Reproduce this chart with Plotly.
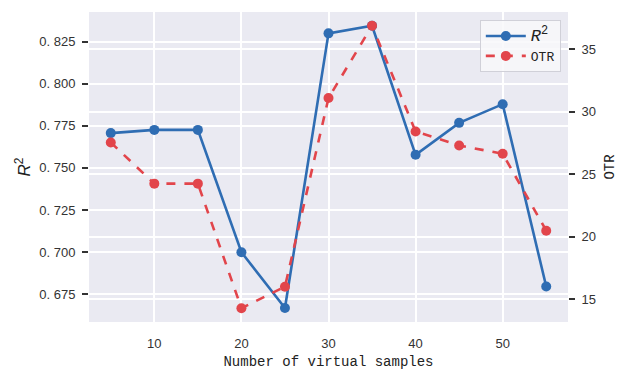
import plotly.graph_objects as go

samples = [5, 10, 15, 20, 25, 30, 35, 40, 45, 50, 55]
r2 = [0.7707, 0.7726, 0.7726, 0.6999, 0.6667, 0.8300, 0.8345, 0.7578, 0.7768, 0.7879, 0.6795]
otr = [27.55, 24.26, 24.26, 14.3, 16.02, 31.1, 36.88, 28.43, 27.31, 26.65, 20.5]

x_ticks = [10, 20, 30, 40, 50]
y1_ticks = [0.675, 0.700, 0.725, 0.750, 0.775, 0.800, 0.825]
y1_text = ["0. 675", "0. 700", "0. 725", "0. 750", "0. 775", "0. 800", "0. 825"]
y2_ticks = [15, 20, 25, 30, 35]

BLUE = "#2f6db3"
RED = "#e2454b"
BG = "#eaeaf2"
num_font = dict(family="Liberation Sans, Arial, sans-serif", size=13, color="#333333")
mono_font = dict(family="Liberation Mono, DejaVu Sans Mono, monospace", size=14, color="#222222")

fig = go.Figure()
fig.add_trace(go.Scatter(
    x=samples, y=r2, mode="lines+markers",
    name="<span style='font-size:17px'><i>R</i><sup>2</sup></span>",
    line=dict(color=BLUE, width=2.6), marker=dict(color=BLUE, size=10),
    yaxis="y"))
fig.add_trace(go.Scatter(
    x=samples, y=otr, mode="lines+markers", name="OTR",
    line=dict(color=RED, width=2.6, dash="dash"), marker=dict(color=RED, size=10),
    yaxis="y2"))

fig.update_layout(
    width=618, height=370,
    margin=dict(l=89, r=50, t=12, b=48),
    paper_bgcolor="white", plot_bgcolor=BG,
    showlegend=True,
    legend=dict(x=0.985, y=0.974, xanchor="right", yanchor="top",
                bgcolor="rgba(248,248,250,0.85)", bordercolor="#d0d0d8", borderwidth=1,
                font=dict(family="Liberation Mono, DejaVu Sans Mono, monospace", size=13, color="#222222"),
                itemwidth=40, tracegroupgap=2),
    xaxis=dict(range=[2.5, 57.5], tickvals=x_ticks, showgrid=True, gridcolor="white",
               gridwidth=1.5, zeroline=False, showline=False, ticks="", ticklabelstandoff=12,
               tickfont=num_font, automargin=False,
               title=dict(text="Number of virtual samples", font=mono_font, standoff=8)),
    yaxis=dict(range=[0.6584, 0.8427], tickvals=y1_ticks, ticktext=y1_text,
               showgrid=True, gridcolor="white", gridwidth=1.5, zeroline=False,
               showline=False, ticks="outside", ticklen=6, tickwidth=1.6, tickcolor="#333333",
               ticklabelstandoff=4, tickfont=num_font, automargin=False,
               title=dict(text="<i>R</i><sup>2</sup>",
                          font=dict(family="Liberation Sans, Arial, sans-serif", size=17, color="#222222"),
                          standoff=4)),
    yaxis2=dict(range=[13.2, 37.98], tickvals=y2_ticks, overlaying="y", side="right",
                showgrid=True, gridcolor="white", gridwidth=1.5, zeroline=False,
                showline=False, ticks="outside", ticklen=6, tickwidth=1.6, tickcolor="#333333",
                ticklabelstandoff=4, tickfont=num_font, automargin=False,
                title=dict(text="OTR", font=mono_font, standoff=12)),
)

fig.write_html("out.html")
